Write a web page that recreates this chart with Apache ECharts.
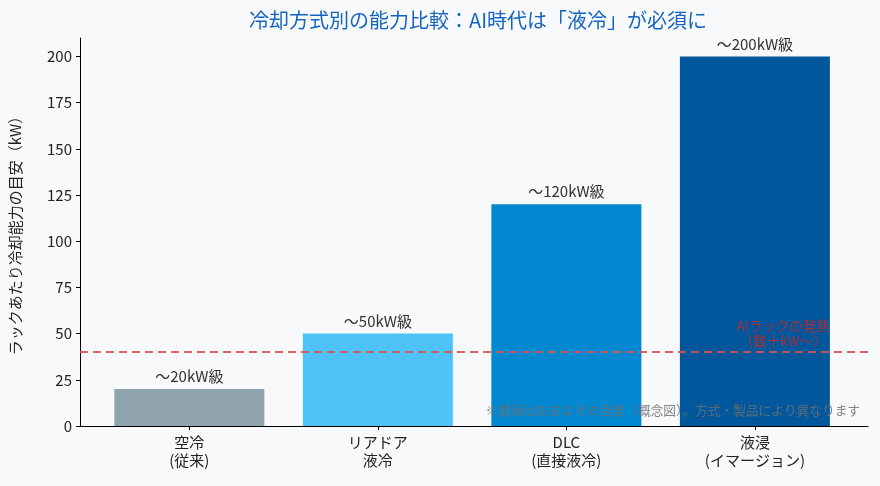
<!DOCTYPE html>
<html>
<head>
<meta charset="utf-8">
<script src="https://cdn.jsdelivr.net/npm/echarts@6/dist/echarts.min.js"></script>
<style>
  html, body { margin: 0; padding: 0; background: #f8f9fb; }
  #chart { width: 880px; height: 486px; }
</style>
</head>
<body>
<div id="chart"></div>
<script>
const categories = ['空冷\n(従来)', 'リアドア\n液冷', 'DLC\n(直接液冷)', '液浸\n(イマージョン)']
const capacity = [20, 50, 120, 200]
const barLabels = ['〜20kW級', '〜50kW級', '〜120kW級', '〜200kW級']
const barColors = ['#90a4ae', '#4fc3f7', '#0288d1', '#01579b']
const yTicks = [0, 25, 50, 75, 100, 125, 150, 175, 200]
const aiRackLine = 40

const font = '"Noto Sans CJK JP", "Noto Sans", sans-serif'
const chart = echarts.init(document.getElementById('chart'))

chart.setOption({
  backgroundColor: '#f8f9fb',
  textStyle: { fontFamily: font },
  title: {
    text: '冷却方式別の能力比較：AI時代は「液冷」が必須に',
    left: 473,
    textAlign: 'center',
    top: 5,
    textStyle: { color: '#1565c0', fontSize: 20, fontWeight: 'normal', fontFamily: font },
  },
  grid: { left: 78, right: 12, top: 38, bottom: 60 },
  xAxis: {
    type: 'value',
    min: -0.58,
    max: 3.6,
    splitLine: { show: false },
    axisLine: { show: true, lineStyle: { color: '#000', width: 1 } },
    axisTick: { show: true, customValues: [0, 1, 2, 3], length: 4, lineStyle: { color: '#000' } },
    axisLabel: {
      customValues: [0, 1, 2, 3],
      formatter: (v) => categories[Math.round(v)],
      color: '#222',
      fontSize: 15,
      lineHeight: 18,
      margin: 7,
    },
  },
  yAxis: {
    type: 'value',
    min: 0,
    max: 210,
    name: 'ラックあたり冷却能力の目安（kW）',
    nameLocation: 'middle',
    nameGap: 57,
    nameTextStyle: { color: '#222', fontSize: 15 },
    splitLine: { show: false },
    axisLine: { show: true, onZero: false, lineStyle: { color: '#000', width: 1 } },
    axisTick: { show: true, customValues: yTicks, length: 4, lineStyle: { color: '#000' } },
    axisLabel: { customValues: yTicks, color: '#222', fontSize: 15, margin: 8 },
  },
  series: [
    {
      type: 'bar',
      barWidth: 150,
      data: capacity.map((v, i) => ({
        value: [i, v],
        itemStyle: { color: barColors[i] },
        label: { formatter: barLabels[i] },
      })),
      label: { show: true, position: 'top', distance: 5, color: '#333', fontSize: 15 },
      markLine: {
        silent: true,
        symbol: 'none',
        data: [{ yAxis: aiRackLine }],
        label: { show: false },
        lineStyle: { color: '#d9534f', type: [8, 5], width: 2, opacity: 0.9 },
      },
    },
  ],
})

const p = chart.convertToPixel({ gridIndex: 0 }, [3.15, aiRackLine])
chart.setOption({
  graphic: [
    {
      type: 'text',
      z: 100,
      x: p[0],
      y: p[1] - 4,
      style: {
        text: 'AIラックの発熱\n（数十kW〜）',
        fill: 'rgba(198,40,40,0.85)',
        font: '13.5px ' + font,
        align: 'center',
        verticalAlign: 'bottom',
        lineHeight: 15,
      },
    },
    {
      type: 'text',
      z: 100,
      right: 20,
      top: 404,
      style: {
        text: '※数値はおおよその目安（概念図）。方式・製品により異なります',
        fill: 'rgba(110,110,110,0.85)',
        font: '12.7px ' + font,
      },
    },
  ],
})
</script>
</body>
</html>
